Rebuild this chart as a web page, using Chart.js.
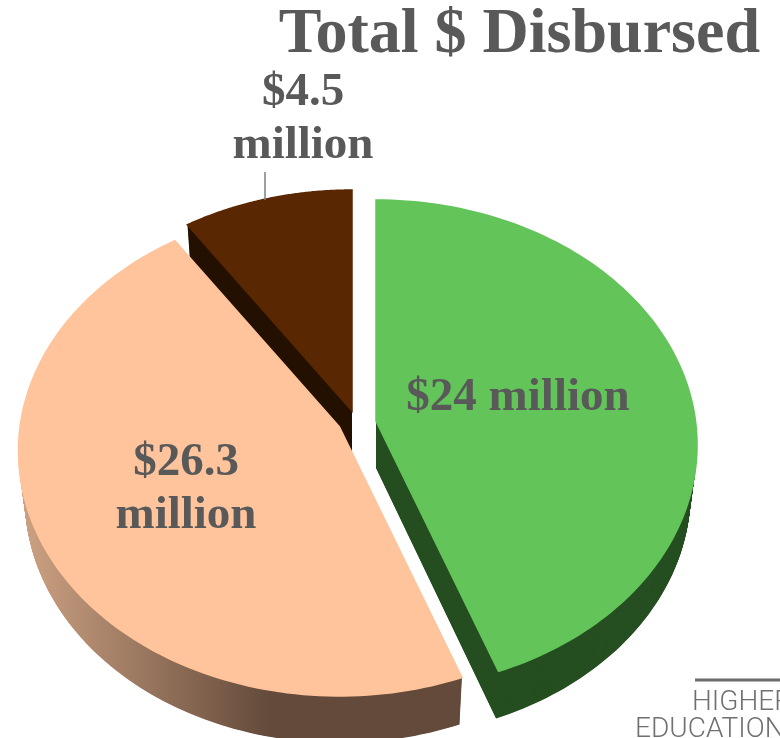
<!DOCTYPE html>
<html>
<head>
<meta charset="utf-8">
<title>Total $ Disbursed</title>
<script src="https://cdn.jsdelivr.net/npm/chart.js@4"></script>
<style>
    html, body { margin: 0; padding: 0; background: #fff; }
    canvas { display: block; }
</style>
</head>
<body>
<canvas id="disbursedChart" width="780" height="738"></canvas>
<script>
const categories = ['$24 million', '$26.3 million', '$4.5 million'];
const disbursed = [24, 26.3, 4.5];
const topColors = ['#63c45a', '#ffc49b', '#5a2703'];
const wallColors = ['#264f21', null, '#241000'];

// Text lines for each slice, wrapped the way they sit on the pie
const labelLines = [['$24 million'], ['$26.3', 'million'], ['$4.5', 'million']];
const labelSpots = [[518, 410], [186, 475], [303, 105]];

// Where each pulled-out slice has its tip on the page
const tips = [[376, 421], [339.5, 427], [352, 411]];
const DISC_X = 319.5, DISC_Y = 242.6, TILT = 0.098, DEPTH = 47;

// Maps a library arc angle and radius fraction onto the tilted disc
function project(index, angle, r) {
    const t = angle + Math.PI / 2;
    const a = t + (7 * Math.sin(t) + Math.sin(2 * t)) * Math.PI / 180;
    const u = Math.sin(a) * r, v = -Math.cos(a) * r;
    const w = 1 - TILT * v;
    return [tips[index][0] + DISC_X * u / w, tips[index][1] + DISC_Y * v / w];
}

function outline(index, arc) {
    const pts = [project(index, 0, 0)];
    const steps = 120;
    for (let s = 0; s <= steps; s++) {
        const a = arc.startAngle + (arc.endAngle - arc.startAngle) * s / steps;
        pts.push(project(index, a, 1));
    }
    return pts;
}

// Same outline, pushed down and pinched a little as it recedes
function trace(ctx, pts, index, dy) {
    const pinch = 1 - 0.02 * dy / DEPTH;
    ctx.beginPath();
    pts.forEach((p, i) => {
        const x = tips[index][0] + (p[0] - tips[index][0]) * pinch;
        if (i) ctx.lineTo(x, p[1] + dy);
        else ctx.moveTo(x, p[1] + dy);
    });
    ctx.closePath();
}

const tiltedPie = {
    id: 'tiltedPie',
    beforeDatasetDraw(chart, args) {
        const ctx = chart.ctx;
        const arcs = chart.getDatasetMeta(args.index).data;

        // peach wall fades from tan on the left to dark brown
        const shade = ctx.createLinearGradient(18, 0, 270, 0);
        shade.addColorStop(0, '#cfa384');
        shade.addColorStop(1, '#634a3a');

        // brown sits furthest back, so it goes down first
        [2, 0, 1].forEach(i => {
            const pts = outline(i, arcs[i]);
            ctx.fillStyle = wallColors[i] || shade;
            for (let dy = DEPTH; dy > 0; dy -= 0.5) {
                trace(ctx, pts, i, dy);
                ctx.fill();
            }
            trace(ctx, pts, i, 0);
            ctx.fillStyle = arcs[i].options.backgroundColor;
            ctx.strokeStyle = arcs[i].options.backgroundColor;
            ctx.lineWidth = 1.5;
            ctx.fill();
            ctx.stroke();
        });
        return false;
    },
    afterDatasetsDraw(chart) {
        const ctx = chart.ctx;
        ctx.save();

        // leader line for the small slice
        ctx.strokeStyle = '#7f7f7f';
        ctx.lineWidth = 1.5;
        ctx.beginPath();
        ctx.moveTo(265, 172);
        ctx.lineTo(265, 200);
        ctx.stroke();

        ctx.fillStyle = '#595959';
        ctx.font = 'bold 47px "Liberation Serif"';
        ctx.textAlign = 'center';
        labelLines.forEach((lines, i) => {
            lines.forEach((line, n) => {
                ctx.fillText(line, labelSpots[i][0], labelSpots[i][1] + n * 53);
            });
        });

        // publisher mark in the corner
        ctx.fillStyle = '#6d6d6d';
        ctx.fillRect(695, 678.5, 85, 3);
        ctx.textAlign = 'left';
        ctx.fillStyle = '#707070';
        ctx.font = '300 28px Roboto';
        ctx.fillText('HIGHER', 692, 710);
        ctx.fillText('EDUCATION', 635, 737);
        ctx.restore();
    }
};

new Chart(document.getElementById('disbursedChart'), {
    type: 'pie',
    data: {
        labels: categories,
        datasets: [{ data: disbursed, backgroundColor: topColors, borderWidth: 0 }]
    },
    options: {
        responsive: false,
        animation: false,
        layout: { padding: { right: 20 } },
        plugins: {
            legend: { display: false },
            tooltip: { enabled: false },
            title: {
                display: true,
                text: 'Total $ Disbursed',
                align: 'end',
                color: '#595959',
                font: { family: '"Liberation Serif"', size: 64, weight: 'bold', lineHeight: 1.1 },
                padding: { top: 0, bottom: 0 }
            }
        }
    },
    plugins: [tiltedPie]
});
</script>
</body>
</html>
